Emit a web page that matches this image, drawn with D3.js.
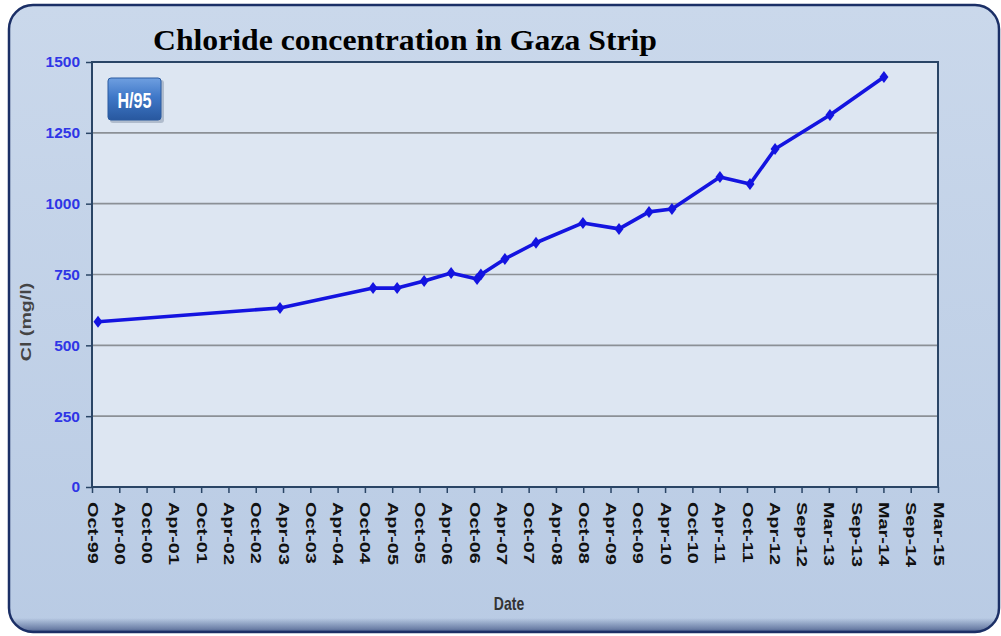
<!DOCTYPE html>
<html><head><meta charset="utf-8">
<script src="https://cdn.jsdelivr.net/npm/d3@7"></script>
<style>body{margin:0;background:#fff}svg{display:block}</style>
</head><body>
<svg id="c" width="1001" height="636"></svg>
<script>
const tickLabels = ["Oct-99","Apr-00","Oct-00","Apr-01","Oct-01","Apr-02","Oct-02","Apr-03","Oct-03","Apr-04","Oct-04","Apr-05","Oct-05","Apr-06","Oct-06","Apr-07","Oct-07","Apr-08","Oct-08","Apr-09","Oct-09","Apr-10","Oct-10","Apr-11","Oct-11","Apr-12","Sep-12","Mar-13","Sep-13","Mar-14","Sep-14","Mar-15"];
// position of each sample along the date axis, in units of axis label steps
const samplePos = [0.22, 6.89, 10.30, 11.18, 12.17, 13.16, 14.11, 14.25, 15.13, 16.27, 17.99, 19.31, 20.41, 21.25, 23.01, 24.11, 25.03, 27.04, 29.02];
const chloride  = [583, 632, 702, 702, 727, 755, 734, 750, 805, 862, 932, 911, 971, 981, 1094, 1069, 1193, 1313, 1447];
const yTicks = [0, 250, 500, 750, 1000, 1250, 1500];

const svg = d3.select("#c");
const defs = svg.append("defs");
const pg = defs.append("linearGradient").attr("id","panel").attr("x1",0).attr("y1",0).attr("x2",0).attr("y2",1);
pg.append("stop").attr("offset","0%").attr("stop-color","#cad8eb");
pg.append("stop").attr("offset","100%").attr("stop-color","#b9cbe4");
const bg = defs.append("linearGradient").attr("id","badge").attr("x1",0).attr("y1",0).attr("x2",0).attr("y2",1);
bg.append("stop").attr("offset","0%").attr("stop-color","#6f9fe0");
bg.append("stop").attr("offset","45%").attr("stop-color","#3f78c8");
bg.append("stop").attr("offset","100%").attr("stop-color","#28589f");
const sh = defs.append("linearGradient").attr("id","bshadow").attr("x1",0).attr("y1",0).attr("x2",0).attr("y2",1);
sh.append("stop").attr("offset","0%").attr("stop-color","#1b2f66").attr("stop-opacity",0);
sh.append("stop").attr("offset","70%").attr("stop-color","#1b2f66").attr("stop-opacity",0.5);
sh.append("stop").attr("offset","100%").attr("stop-color","#1b2f66").attr("stop-opacity",1);
defs.append("clipPath").attr("id","frameClip").append("rect")
  .attr("x",9).attr("y",5).attr("width",990).attr("height",627).attr("rx",24);

// outer panel
svg.append("rect").attr("x",9).attr("y",5).attr("width",990).attr("height",627).attr("rx",24)
  .attr("fill","url(#panel)");
svg.append("rect").attr("x",0).attr("y",618).attr("width",1001).attr("height",16)
  .attr("fill","url(#bshadow)").attr("clip-path","url(#frameClip)");
svg.append("rect").attr("x",9).attr("y",5).attr("width",990).attr("height",627).attr("rx",24)
  .attr("fill","none").attr("stroke","#1b2f66").attr("stroke-width",2.5);

const m = {l:92, r:938, t:62, b:487};
const x = d3.scaleLinear().domain([0, tickLabels.length-1]).range([m.l, m.r]);
const y = d3.scaleLinear().domain([0,1500]).range([m.b, m.t]);

// plot area
svg.append("rect").attr("x",m.l).attr("y",m.t).attr("width",m.r-m.l).attr("height",m.b-m.t)
  .attr("fill","#dde6f2");

// gridlines
svg.append("g").selectAll("line").data(yTicks.filter(d=>d>0)).join("line")
  .attr("x1",m.l).attr("x2",m.r).attr("y1",d=>y(d)).attr("y2",d=>y(d))
  .attr("stroke","#8b9096").attr("stroke-width",1.6);

svg.append("rect").attr("x",m.l).attr("y",m.t).attr("width",m.r-m.l).attr("height",m.b-m.t)
  .attr("fill","none").attr("stroke","#2a4566").attr("stroke-width",2);

// y axis
const ya = svg.append("g").attr("transform",`translate(${m.l},0)`)
  .call(d3.axisLeft(y).tickValues(yTicks).tickSize(6).tickPadding(6).tickFormat(d3.format("d")));
ya.select(".domain").remove();
ya.selectAll(".tick line").attr("stroke","#2a4566").attr("stroke-width",1.5);
ya.selectAll(".tick text").attr("fill","#2f35e6").attr("font-family","Liberation Sans, Arial, sans-serif")
  .attr("font-weight","bold").attr("font-size",15.5);

// x axis
const xa = svg.append("g").attr("transform",`translate(0,${m.b})`)
  .call(d3.axisBottom(x).tickValues(d3.range(tickLabels.length)).tickSize(6).tickFormat(i=>tickLabels[i]));
xa.select(".domain").remove();
xa.selectAll(".tick line").attr("stroke","#2a4566").attr("stroke-width",1.5);
xa.selectAll(".tick text").attr("fill","#111").attr("font-family","Liberation Sans, Arial, sans-serif")
  .attr("font-weight","bold").attr("font-size",14)
  .attr("text-anchor","start").attr("dy","0.35em")
  .attr("transform","translate(0,15) rotate(90) scale(1.42,1)").attr("x",0).attr("y",0);

// line + markers
const pts = samplePos.map((p,i)=>[x(p), y(chloride[i])]);
svg.append("path").attr("d", d3.line()(pts)).attr("fill","none")
  .attr("stroke","#1414e0").attr("stroke-width",3.6).attr("stroke-linejoin","round");
svg.append("g").selectAll("path").data(pts).join("path")
  .attr("transform",d=>`translate(${d[0]},${d[1]})`)
  .attr("d","M0,-6 L4.5,0 L0,6 L-4.5,0 Z").attr("fill","#1414e0");

// titles
svg.append("text").attr("x",405).attr("y",50).attr("text-anchor","middle")
  .attr("font-family","Liberation Serif, Times New Roman, serif").attr("font-weight","bold")
  .attr("font-size",29).attr("textLength",504).attr("lengthAdjust","spacingAndGlyphs")
  .attr("fill","#000").text("Chloride concentration in Gaza Strip");
svg.append("text").attr("transform","translate(31,322) rotate(-90) scale(1.4,1)").attr("text-anchor","middle")
  .attr("font-family","Liberation Sans, Arial, sans-serif").attr("font-weight","bold")
  .attr("font-size",14).attr("fill","#444").text("Cl (mg/l)");
svg.append("text").attr("transform","translate(509,610) scale(1,1.25)").attr("text-anchor","middle")
  .attr("font-family","Liberation Sans, Arial, sans-serif").attr("font-weight","bold")
  .attr("font-size",14).attr("fill","#333").text("Date");

// badge
svg.append("rect").attr("x",110).attr("y",80).attr("width",54).attr("height",43).attr("rx",3)
  .attr("fill","#7a8aa0").attr("opacity",0.45);
svg.append("rect").attr("x",108).attr("y",78).attr("width",53).attr("height",42).attr("rx",3)
  .attr("fill","url(#badge)").attr("stroke","#2a5aa0").attr("stroke-width",1);
svg.append("text").attr("transform","translate(134.5,108) scale(0.85,1.15)").attr("text-anchor","middle")
  .attr("font-family","Liberation Sans, Arial, sans-serif").attr("font-weight","bold")
  .attr("font-size",19).attr("fill","#fff").text("H/95");
</script>
</body></html>
